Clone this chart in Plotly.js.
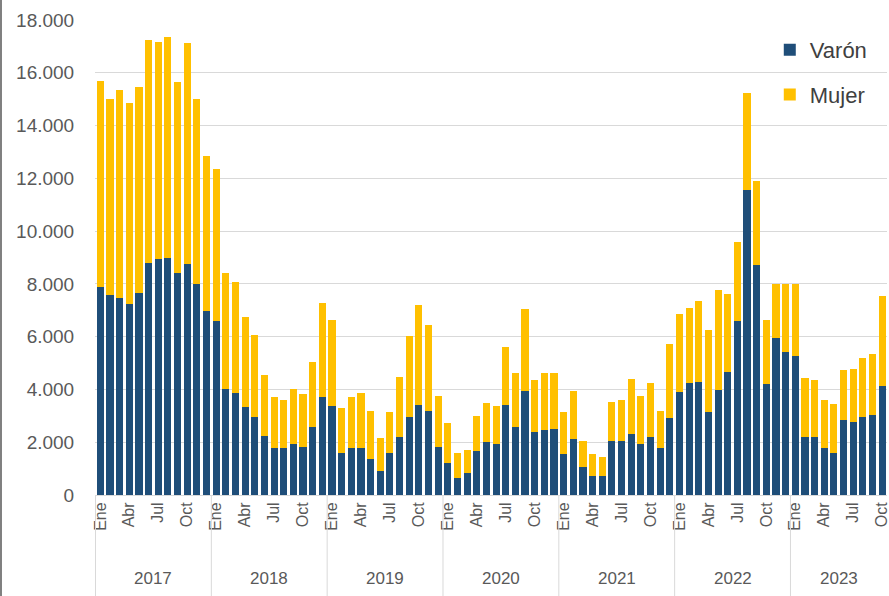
<!DOCTYPE html>
<html>
<head>
<meta charset="utf-8">
<script src="https://cdn.plot.ly/plotly-3.0.1.min.js"></script>
<style>
  html, body { margin: 0; padding: 0; background: #fff; }
  #chart { width: 889px; height: 596px; }
</style>
</head>
<body>
<div id="chart"></div>
<script>
const years = ["2017", "2018", "2019", "2020", "2021", "2022", "2023"];
const monthsPerYear = [12, 12, 12, 12, 12, 12, 10];
const months = ["Ene", "Feb", "Mar", "Abr", "May", "Jun", "Jul", "Ago", "Sep", "Oct", "Nov", "Dic"];
const shownMonths = ["Ene", "Abr", "Jul", "Oct"];

const varon = [
  7890, 7580, 7450, 7220, 7640, 8810, 8960, 9000, 8430, 8750, 7980, 6970,
  6590, 4010, 3850, 3320, 2940, 2230, 1790, 1790, 1930, 1830, 2590, 3730,
  3370, 1580, 1790, 1790, 1350, 920, 1580, 2180, 2940, 3410, 3180, 1830,
  1220, 630, 820, 1670, 2020, 1920, 3410, 2590, 3950, 2370, 2460, 2520,
  1560, 2110, 1050, 720, 720, 2060, 2060, 2300, 1930, 2180, 1770, 2930,
  3910, 4260, 4290, 3160, 3980, 4670, 6600, 11550, 8710, 4200, 5960, 5430,
  5280, 2180, 2180, 1790, 1580, 2840, 2780, 2970, 3030, 4130
];
const mujer = [
  7790, 7410, 7890, 7640, 7830, 8420, 8210, 8360, 7230, 8380, 7010, 5860,
  5780, 4410, 4210, 3410, 3120, 2320, 1910, 1810, 2070, 2000, 2460, 3550,
  3260, 1700, 1940, 2060, 1840, 1250, 1580, 2300, 3100, 3790, 3260, 1930,
  1490, 950, 880, 1320, 1450, 1450, 2210, 2020, 3080, 1990, 2150, 2110,
  1590, 1820, 1000, 830, 730, 1470, 1540, 2080, 1830, 2070, 1420, 2780,
  2940, 2840, 3060, 3090, 3790, 2930, 3000, 3690, 3180, 2430, 2030, 2560,
  2710, 2260, 2180, 1810, 1870, 1890, 1990, 2240, 2310, 3410
];

const FONT = "Liberation Sans, Arial, sans-serif";

// category labels
const cats = [];
const tickvals = [];
const ticktext = [];
years.forEach((y, yi) => {
  for (let m = 0; m < monthsPerYear[yi]; m++) {
    const c = months[m] + " " + y;
    cats.push(c);
    if (shownMonths.includes(months[m])) { tickvals.push(c); ticktext.push(months[m]); }
  }
});

const traces = [
  { type: "bar", name: "Varón", x: cats, y: varon, marker: { color: "#1F4E79" }, legendgroup: "v" },
  { type: "bar", name: "Mujer", x: cats, y: mujer, marker: { color: "#FFC000" }, legendgroup: "m" }
];

const annotations = [];
const shapes = [];
let start = 0;
years.forEach((y, yi) => {
  const n = monthsPerYear[yi];
  annotations.push({
    text: y, xref: "x", yref: "paper", x: start + (n - 1) / 2, y: -0.175,
    showarrow: false, xanchor: "center", yanchor: "middle",
    font: { family: FONT, size: 17, color: "#595959" }
  });
  shapes.push({
    type: "line", xref: "x", yref: "paper", x0: start - 0.5, x1: start - 0.5, y0: 0, y1: -0.215,
    line: { color: "#d9d9d9", width: 1 }
  });
  start += n;
});
// left border of the picture
shapes.push({
  type: "line", xref: "paper", yref: "paper", x0: -0.1187, x1: -0.1187, y0: -0.215, y1: 1.045,
  line: { color: "#808080", width: 2 }
});

const layout = {
  width: 889, height: 596,
  margin: { l: 95, r: 2, t: 20, b: 101 },
  paper_bgcolor: "#ffffff", plot_bgcolor: "#ffffff",
  barmode: "stack", bargap: 0.26,
  separators: ",.",
  font: { family: FONT, size: 16, color: "#595959" },
  xaxis: {
    type: "category", tickmode: "array", tickvals: tickvals, ticktext: ticktext,
    tickangle: -90, tickfont: { family: FONT, size: 16, color: "#595959" },
    showgrid: false, showline: true, linecolor: "#d9d9d9", ticks: "", fixedrange: true
  },
  yaxis: {
    range: [0, 18000], dtick: 2000, tickformat: ",",
    tickfont: { family: FONT, size: 19, color: "#595959" },
    showgrid: true, gridcolor: "#d9d9d9", gridwidth: 1, zeroline: false,
    ticks: "outside", ticklen: 16, tickcolor: "rgba(0,0,0,0)"
  },
  legend: {
    x: 0.852, y: 0.981, xanchor: "left", yanchor: "top",
    traceorder: "grouped", tracegroupgap: 13,
    font: { family: FONT, size: 22, color: "#404040" }, bgcolor: "rgba(255,255,255,0)"
  },
  annotations: annotations,
  shapes: shapes
};

Plotly.newPlot("chart", traces, layout, { displayModeBar: false, staticPlot: true });
</script>
</body>
</html>
